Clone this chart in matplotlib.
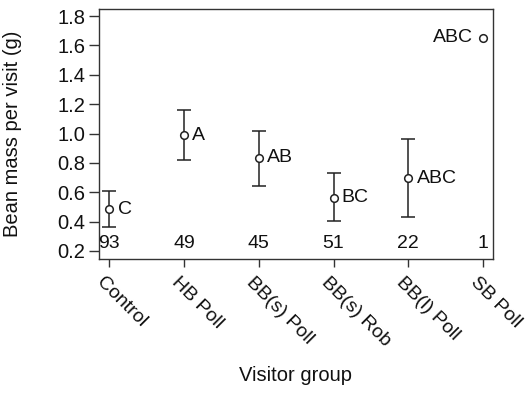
import matplotlib
matplotlib.use("Agg")
import matplotlib.pyplot as plt

plt.rcParams['font.family'] = ['Liberation Sans', 'DejaVu Sans']

groups = ["Control", "HB Poll", "BB(s) Poll", "BB(s) Rob", "BB(l) Poll", "SB Poll"]
means = [0.484, 0.989, 0.834, 0.564, 0.697, 1.653]
upper = [0.61, 1.159, 1.017, 0.729, 0.960, None]
lower = [0.365, 0.822, 0.646, 0.401, 0.431, None]
letters = ["C", "A", "AB", "BC", "ABC", "ABC"]
counts = ["93", "49", "45", "51", "22", "1"]
yticks = [0.2, 0.4, 0.6, 0.8, 1.0, 1.2, 1.4, 1.6, 1.8]

fig = plt.figure(figsize=(5.26, 3.95), dpi=100)
ax = fig.add_axes([0.1888, 0.3443, 0.9367 - 0.1888, 0.9765 - 0.3443])

x = list(range(len(groups)))
for i in x:
    if upper[i] is not None:
        ax.errorbar([i], [means[i]],
                    yerr=[[means[i] - lower[i]], [upper[i] - means[i]]],
                    fmt='none', ecolor='#222222', elinewidth=1.1,
                    capsize=5.2, capthick=1.1)
ax.plot(x, means, linestyle='none', marker='o', markersize=5.5,
        markerfacecolor='white', markeredgecolor='#222222', markeredgewidth=1.1,
        zorder=5)

for i in x:
    if i == len(groups) - 1:
        ax.annotate(letters[i], (i, means[i]), xytext=(-7, 0),
                    textcoords='offset points', ha='right', va='center',
                    fontsize=14, color='#111111')
    else:
        ax.annotate(letters[i], (i, means[i]), xytext=(6, 0),
                    textcoords='offset points', ha='left', va='center',
                    fontsize=14, color='#111111')
    ax.text(i, 0.25, counts[i], ha='center', va='center', fontsize=14,
            color='#111111')

ax.set_xlim(-0.134, 5.13)
ax.set_ylim(0.1455, 1.846)
ax.set_yticks(yticks)
ax.set_yticklabels([f"{v:.1f}" for v in yticks], fontsize=14.5, color='#111111')
ax.set_xticks(x)
ax.set_xticklabels([])
ax.tick_params(axis='both', direction='out', width=1.0, color='#333333')
ax.tick_params(axis='x', length=5.5)
ax.tick_params(axis='y', length=7, pad=3)
for s in ax.spines.values():
    s.set_linewidth(1.0)
    s.set_color('#333333')

for i in x:
    ax.text(i - 0.13, -0.085, groups[i], transform=ax.get_xaxis_transform(),
            rotation=-45, rotation_mode='anchor', ha='left', va='center',
            fontsize=14, color='#111111')

ax.set_ylabel("Bean mass per visit (g)", fontsize=14.5, color='#111111')
ax.yaxis.set_label_coords(-(99.3 - 21.5) / (492.7 - 99.3), 0.5)
fig.text(0.5627, 0.05, "Visitor group", ha='center', va='center', fontsize=14.5,
         color='#111111')

fig.savefig("out.png", dpi=100)
